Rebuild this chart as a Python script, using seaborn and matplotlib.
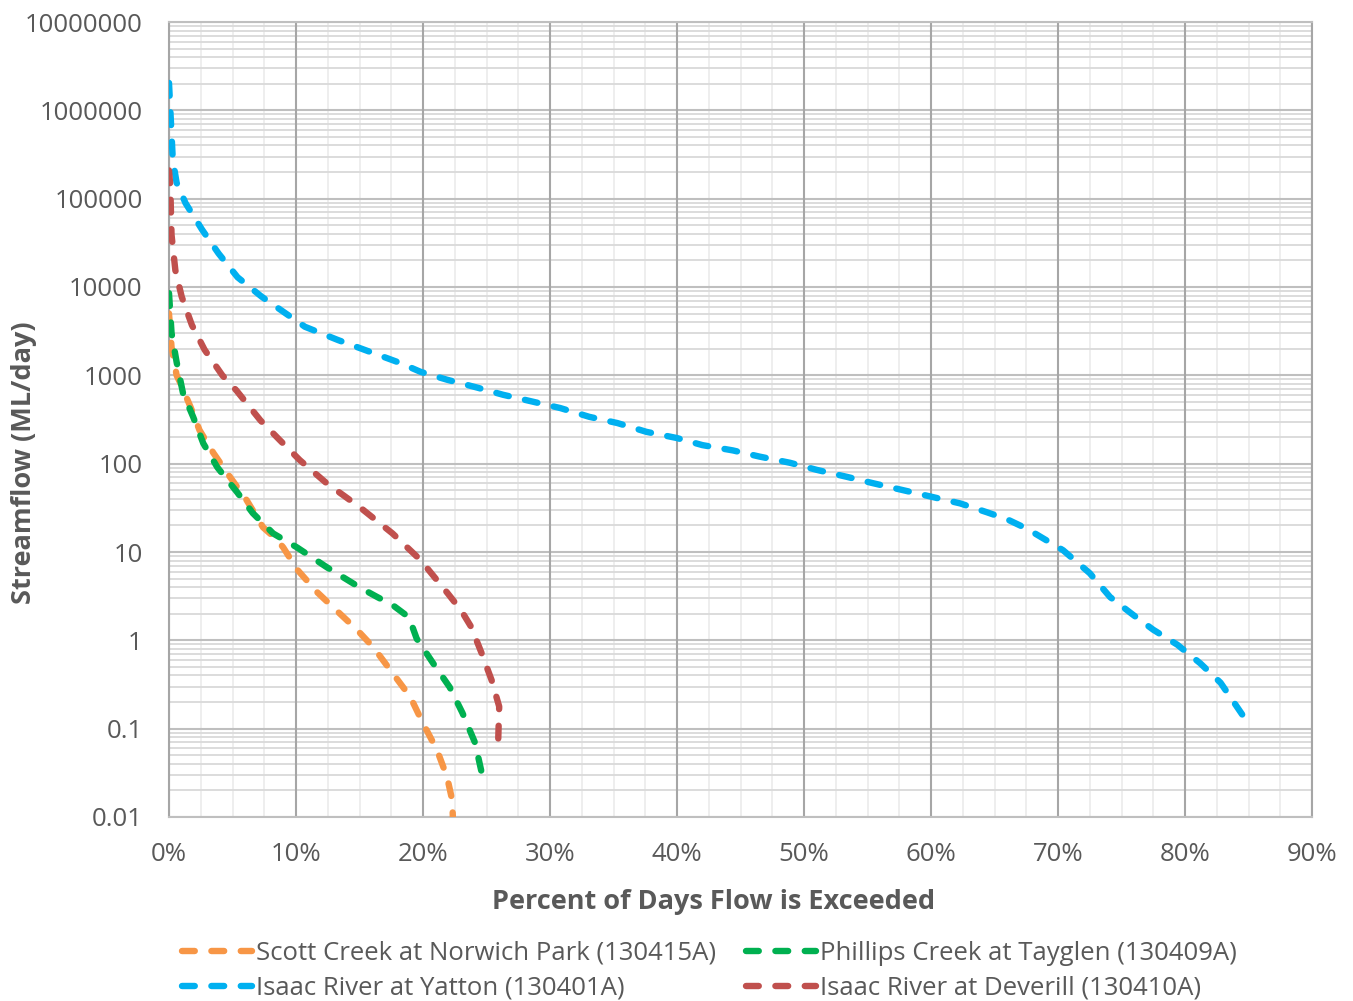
import numpy as np
import pandas as pd
import matplotlib
matplotlib.use("Agg")
import matplotlib.pyplot as plt
from matplotlib.lines import Line2D
from matplotlib.ticker import FixedLocator, NullFormatter
import seaborn as sns

# ---- data (percent exceeded as fraction, log10 of streamflow ML/day) ----
scott_x = [0.000, 0.002, 0.006, 0.009, 0.017, 0.024, 0.035, 0.048, 0.061, 0.074, 0.085, 0.090,
           0.101, 0.117, 0.148, 0.161, 0.176, 0.190, 0.200, 0.211, 0.219, 0.223, 0.2235]
scott_log = [3.70, 3.32, 3.00, 2.91, 2.64, 2.38, 2.12, 1.85, 1.59, 1.28, 1.14, 1.05,
             0.80, 0.54, 0.12, -0.08, -0.37, -0.64, -0.94, -1.24, -1.55, -1.81, -2.00]

phillips_x = [0.000, 0.002, 0.006, 0.011, 0.019, 0.027, 0.038, 0.054, 0.066, 0.082,
              0.101, 0.124, 0.150, 0.164, 0.176, 0.189, 0.195, 0.208, 0.221, 0.231, 0.241, 0.247]
phillips_log = [3.93, 3.48, 3.15, 2.80, 2.53, 2.23, 1.96, 1.67, 1.44, 1.21,
                1.05, 0.83, 0.60, 0.49, 0.40, 0.26, 0.02, -0.26, -0.53, -0.82, -1.16, -1.55]

yatton_x = [0.000, 0.003, 0.006, 0.013, 0.026, 0.039, 0.054, 0.073, 0.091, 0.107, 0.133,
            0.182, 0.198, 0.219, 0.243, 0.263, 0.287, 0.308, 0.331, 0.353, 0.376, 0.400,
            0.420, 0.444, 0.465, 0.489, 0.510, 0.534, 0.554, 0.578, 0.602, 0.623, 0.644,
            0.660, 0.676, 0.690, 0.704, 0.725, 0.741, 0.759, 0.775, 0.794, 0.812, 0.828, 0.846]
yatton_log = [6.31, 5.44, 5.18, 4.95, 4.65, 4.38, 4.11, 3.89, 3.71, 3.55, 3.40,
              3.14, 3.04, 2.95, 2.86, 2.78, 2.70, 2.63, 2.53, 2.46, 2.36, 2.29,
              2.21, 2.15, 2.08, 2.01, 1.93, 1.85, 1.78, 1.70, 1.62, 1.55, 1.45,
              1.37, 1.26, 1.14, 1.02, 0.76, 0.49, 0.29, 0.12, -0.05, -0.26, -0.48, -0.86]

deverill_x = [0.000, 0.001, 0.002, 0.005, 0.010, 0.018, 0.028, 0.042, 0.053, 0.072, 0.087,
              0.103, 0.124, 0.150, 0.176, 0.198, 0.219, 0.230, 0.238, 0.246, 0.254, 0.260, 0.259]
deverill_log = [5.32, 5.15, 4.59, 4.19, 3.89, 3.57, 3.29, 3.00, 2.83, 2.49, 2.27,
                2.04, 1.78, 1.51, 1.21, 0.91, 0.54, 0.34, 0.15, -0.14, -0.45, -0.75, -1.24]

series_names = ["Scott Creek at Norwich Park (130415A)",
                "Phillips Creek at Tayglen (130409A)",
                "Isaac River at Yatton (130401A)",
                "Isaac River at Deverill (130410A)"]
series_colors = ["#F79646", "#00B050", "#00B0F0", "#C0504D"]

y_tick_values = [0.01, 0.1, 1, 10, 100, 1000, 10000, 100000, 1000000, 10000000]
y_tick_labels = ["0.01", "0.1", "1", "10", "100", "1000", "10000", "100000", "1000000", "10000000"]
x_tick_values = [0.0, 0.1, 0.2, 0.3, 0.4, 0.5, 0.6, 0.7, 0.8, 0.9]
x_tick_labels = ["0%", "10%", "20%", "30%", "40%", "50%", "60%", "70%", "80%", "90%"]

frames = []
for name, xs, ls in zip(series_names,
                        [scott_x, phillips_x, yatton_x, deverill_x],
                        [scott_log, phillips_log, yatton_log, deverill_log]):
    frames.append(pd.DataFrame({"x": xs, "flow": np.power(10.0, ls), "series": name}))
df = pd.concat(frames, ignore_index=True)

# ---- styling ----
sns.set_theme(style="white")
plt.rcParams["font.family"] = ["Open Sans", "DejaVu Sans"]
text_gray = "#595959"

fig = plt.figure(figsize=(13.53, 10.01), dpi=100)
ax = fig.add_axes([169/1353, 1-817/1001, (1312-169)/1353, (817-22)/1001])

ax.set_yscale("log")
ax.set_xlim(0, 0.9)
ax.set_ylim(0.01, 1e7)

# grid lines
minor_x = [i * 0.025 for i in range(37) if i % 4 != 0]
for xv in minor_x:
    ax.axvline(xv, color="#EDEDED", lw=1.3, zorder=0)
minor_y = [m * 10.0**d for d in range(-2, 7) for m in range(2, 10)]
for yv in minor_y:
    ax.axhline(yv, color="#D9D9D9", lw=1.3, zorder=0.5)
for yv in y_tick_values:
    ax.axhline(yv, color="#BFBFBF", lw=1.5, zorder=0.6)
for xv in x_tick_values:
    ax.axvline(xv, color="#A6A6A6", lw=1.5, zorder=0.7)

n_before = len(ax.lines)
palette = dict(zip(series_names, series_colors))
sns.lineplot(data=df, x="x", y="flow", hue="series", palette=palette, units="series",
             estimator=None, sort=False, legend=False, ax=ax, lw=4.6, zorder=3)
for line in ax.lines[n_before:]:
    line.set_dashes([2.0, 2.6])
    line.set_dash_capstyle("round")
    line.set_solid_capstyle("round")

for s in ax.spines.values():
    s.set_color("#BFBFBF")
    s.set_linewidth(1.5)
ax.spines["left"].set_color("#A6A6A6")
ax.spines["right"].set_color("#A6A6A6")

ax.yaxis.set_major_locator(FixedLocator(y_tick_values))
ax.set_yticklabels(y_tick_labels)
ax.yaxis.set_minor_formatter(NullFormatter())
ax.set_xticks(x_tick_values)
ax.set_xticklabels(x_tick_labels)
ax.tick_params(axis="both", which="both", length=0, labelsize=18.5, colors=text_gray)
ax.tick_params(axis="y", pad=19)
ax.tick_params(axis="x", pad=18)

ax.set_xlabel("Percent of Days Flow is Exceeded", fontsize=19.5, fontweight="bold",
              color=text_gray)
ax.set_ylabel("Streamflow (ML/day)", fontsize=19.5, fontweight="bold",
              color=text_gray)
ax.xaxis.label.set_verticalalignment("center")
ax.yaxis.label.set_verticalalignment("center")
ax.xaxis.set_label_coords((714-169)/1143, -(902-817)/795)
ax.yaxis.set_label_coords(-(169-24)/1143, (817-463)/795)

handles = []
for name, col in zip(series_names, series_colors):
    handles.append(Line2D([0], [0], color=col, lw=4.6, dashes=[2.0, 2.6],
                          dash_capstyle="round", label=name))
order = [0, 2, 1, 3]
leg = fig.legend([handles[i] for i in order], [series_names[i] for i in order],
                 ncol=2, loc="lower left", bbox_to_anchor=(172/1353, -0.010),
                 frameon=False, fontsize=18.5, handlelength=2.7, handletextpad=0.15,
                 columnspacing=1.2, labelspacing=0.38, borderaxespad=0)
for t in leg.get_texts():
    t.set_color(text_gray)

fig.savefig("out.png", dpi=100)
